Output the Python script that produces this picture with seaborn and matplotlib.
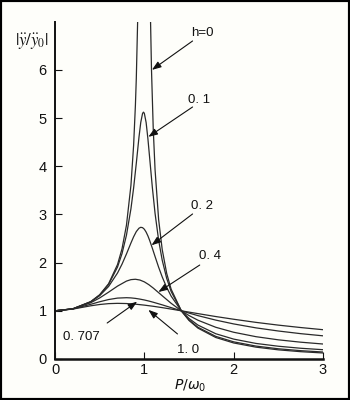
import numpy as np
import pandas as pd
import matplotlib
matplotlib.use("Agg")
import matplotlib.pyplot as plt
from matplotlib.patches import Rectangle
import seaborn as sns

# ---- data ----
# h = 0 (two branches, going off the top of the chart)
r_h0_left = [0, 0.2, 0.4, 0.5, 0.6, 0.7, 0.75, 0.8, 0.85, 0.88, 0.9, 0.91, 0.93]
y_h0_left = [1.0, 1.042, 1.19, 1.333, 1.5625, 1.961, 2.286, 2.778, 3.604, 4.433, 5.263, 5.817, 7.402]
r_h0_right = [1.065, 1.08, 1.1, 1.12, 1.16, 1.2, 1.25, 1.3, 1.414, 1.5, 1.6, 1.8, 2.0, 2.25, 2.5, 2.75, 3.0]
y_h0_right = [7.45, 6.01, 4.762, 3.931, 2.894, 2.273, 1.778, 1.449, 1.0, 0.8, 0.641, 0.446, 0.333, 0.246, 0.19, 0.152, 0.125]

r_fine = [0, 0.2, 0.4, 0.5, 0.6, 0.7, 0.75, 0.8, 0.85, 0.88, 0.91, 0.94, 0.96, 0.98, 1.0,
          1.02, 1.04, 1.06, 1.09, 1.12, 1.16, 1.2, 1.25, 1.3, 1.414, 1.5, 1.6, 1.8, 2.0,
          2.25, 2.5, 2.75, 3.0]
y_h01 = [1.0, 1.042, 1.189, 1.328, 1.547, 1.909, 2.186, 2.571, 3.117, 3.549, 4.06, 4.602,
         4.91, 5.096, 5.099, 4.908, 4.571, 4.166, 3.555, 3.023, 2.466, 2.052, 1.675, 1.401,
         1.0, 0.812, 0.659, 0.469, 0.356, 0.268, 0.212, 0.173, 0.145]
y_h02 = [1.0, 1.041, 1.184, 1.314, 1.505, 1.785, 1.968, 2.18, 2.407, 2.536, 2.644, 2.714,
         2.733, 2.726, 2.693, 2.634, 2.555, 2.459, 2.297, 2.127, 1.905, 1.704, 1.486, 1.305,
         1.0, 0.841, 0.704, 0.524, 0.413, 0.323, 0.265, 0.223, 0.193]
# extra point at the peak of the h = 0.1 curve
r_h01_peak = 0.99
y_h01_peak = 5.123

r_broad = [0, 0.2, 0.4, 0.5, 0.6, 0.7, 0.8, 0.85, 0.9, 0.95, 1.0, 1.05, 1.1, 1.2, 1.3,
           1.414, 1.5, 1.6, 1.8, 2.0, 2.25, 2.5, 2.75, 3.0]
y_h04 = [1.0, 1.041, 1.168, 1.267, 1.387, 1.513, 1.617, 1.647, 1.655, 1.639, 1.601, 1.543,
         1.472, 1.313, 1.156, 1.0, 0.902, 0.805, 0.658, 0.555, 0.463, 0.398, 0.349, 0.311]
y_h0707 = [1.0, 1.038, 1.135, 1.188, 1.234, 1.264, 1.272, 1.268, 1.258, 1.243, 1.225, 1.203,
           1.178, 1.124, 1.066, 1.0, 0.953, 0.9, 0.807, 0.728, 0.646, 0.581, 0.526, 0.481]
y_h10 = [1.0, 1.036, 1.104, 1.131, 1.149, 1.155, 1.151, 1.144, 1.138, 1.128, 1.118, 1.106,
         1.094, 1.066, 1.036, 1.0, 0.973, 0.942, 0.881, 0.825, 0.76, 0.703, 0.653, 0.608]

labels = ["h=0", "0. 1", "0. 2", "0. 4", "0. 707", "1. 0"]

# ---- build tidy frames ----
r_h01 = sorted(r_fine + [r_h01_peak])
y_h01_full = [y for _, y in sorted(zip(r_fine + [r_h01_peak], y_h01 + [y_h01_peak]))]

curves = [
    ("h0a", r_h0_left, y_h0_left),
    ("h0b", r_h0_right, y_h0_right),
    ("h01", r_h01, y_h01_full),
    ("h02", r_fine, y_h02),
    ("h04", r_broad, y_h04),
    ("h0707", r_broad, y_h0707),
    ("h10", r_broad, y_h10),
]
frames = [pd.DataFrame({"r": r, "T": y, "curve": name}) for name, r, y in curves]
df = pd.concat(frames, ignore_index=True)

sns.set_style("ticks")
plt.rcParams["font.family"] = ["Liberation Sans", "DejaVu Sans"]

bg = "#fefefa"
fig = plt.figure(figsize=(3.5, 4.0), dpi=100, facecolor=bg)
ax = fig.add_axes([55 / 350, 1 - 359 / 400, (323 - 55) / 350, (359 - 21.7) / 400])
ax.set_facecolor(bg)

for name, _, _ in curves:
    sub = df[df["curve"] == name]
    sns.lineplot(data=sub, x="r", y="T", ax=ax, color="#2a2a2a", linewidth=0.9,
                 estimator=None, sort=False, legend=False)

ax.set_xlim(0, 3)
ax.set_ylim(0, 7)
ax.set_xticks([0, 1, 2, 3])
ax.set_yticks([0, 1, 2, 3, 4, 5, 6])
ax.set_xticklabels(["0", "1", "2", "3"])
ax.set_yticklabels(["0", "1", "2", "3", "4", "5", "6"])
ax.tick_params(direction="in", length=5, width=0.8, labelsize=10.5, pad=6, colors="#111111")
ax.tick_params(axis="x", pad=3)
ax.set_xlabel("")
ax.set_ylabel("")
for s in ["top", "right"]:
    ax.spines[s].set_visible(False)
ax.spines["left"].set_linewidth(1.4)
ax.spines["bottom"].set_linewidth(1.8)
ax.spines["left"].set_color("#111111")
ax.spines["bottom"].set_color("#111111")

# annotations (label position, arrow tail, arrow head) in data units
ann = [
    ((1.65, 6.76), (1.54, 6.60), (1.085, 6.00)),
    ((1.61, 5.37), (1.54, 5.23), (1.045, 4.61)),
    ((1.65, 3.17), (1.54, 3.01), (1.08, 2.36)),
    ((1.74, 2.14), (1.62, 1.95), (1.157, 1.39)),
    ((0.29, 0.456), (0.584, 0.747), (0.92, 1.19)),
    ((1.49, 0.187), (1.371, 0.52), (1.045, 1.02)),
]
for lab, (tpos, tail, head) in zip(labels, ann):
    ax.text(tpos[0], tpos[1], lab, ha="center", va="center", fontsize=9.5, color="#111111")
    ax.annotate("", xy=head, xytext=tail,
                arrowprops=dict(arrowstyle="-|>,head_length=0.55,head_width=0.2",
                                color="#111111", lw=0.8, shrinkA=0, shrinkB=0))

fig.text(32 / 350, 1 - 41 / 400, r"$|\ddot{y}/\ddot{y}_0|$", ha="center", va="center",
         fontsize=12, color="#111111", math_fontfamily="stix")
fig.text(190 / 350, 1 - 386 / 400, r"$P/\omega_0$", ha="center", va="center",
         fontsize=10, color="#111111")

fig.patches.append(Rectangle((0, 0), 1, 1, transform=fig.transFigure, fill=False,
                             edgecolor="black", linewidth=3))

fig.savefig("out.png", dpi=100, facecolor=bg)
